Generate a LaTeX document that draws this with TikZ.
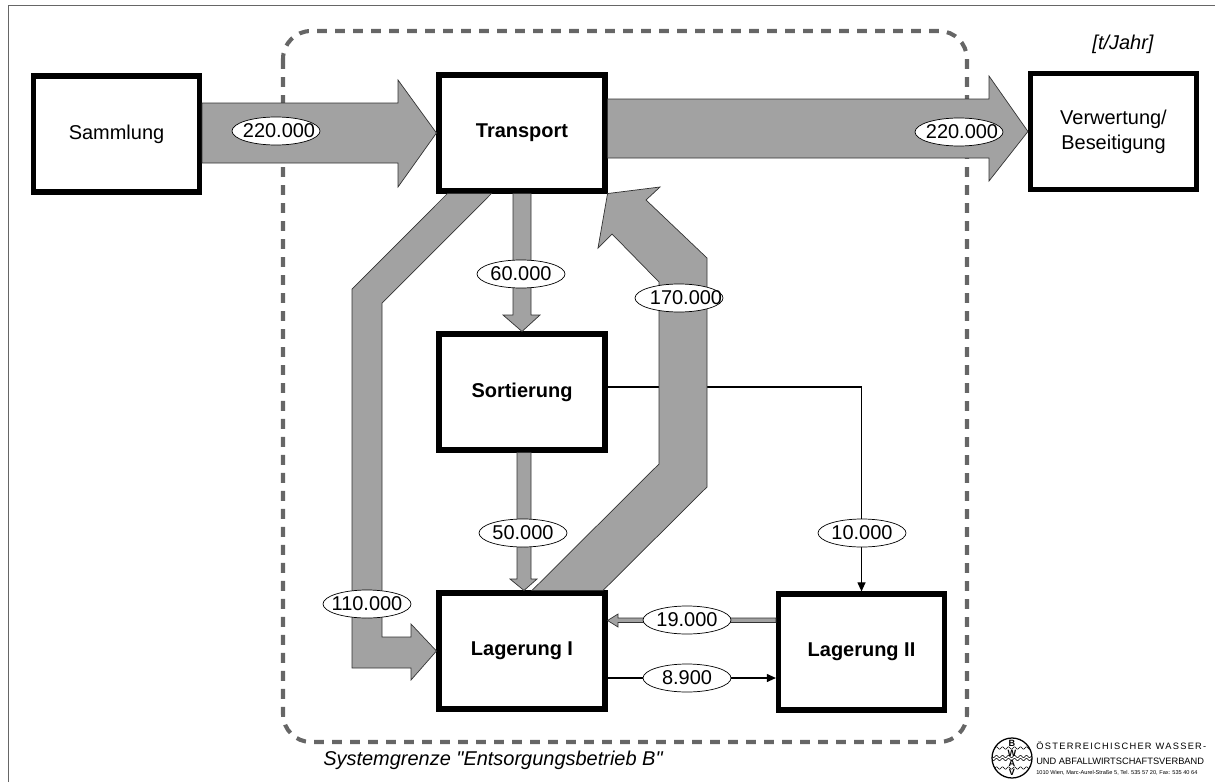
\documentclass[tikz,border=0pt]{standalone}
\usepackage{fontspec}
\setmainfont{Liberation Sans}[Ligatures=TeXOff]
\newfontfamily\logofont[LetterSpace=14]{Liberation Sans}
\usetikzlibrary{arrows.meta,calc,shapes.geometric}
\definecolor{flowgray}{HTML}{A2A2A2}
\definecolor{framegray}{HTML}{666666}
\begin{document}
\begin{tikzpicture}[x=0.025cm,y=-0.025cm,
  labeltext/.style={font=\fontsize{14.2}{17.8}\selectfont,align=center},
  box/.style={labeltext,draw=black,fill=white,line width=3.6pt,minimum width=4.15cm,minimum height=2.9cm,inner sep=0pt},
  flow/.style={draw=black!80,line width=0.5pt,fill=flowgray},
  amount/.style={labeltext,ellipse,draw=black,line width=0.5pt,fill=white,minimum width=2.2cm,minimum height=0.7cm,inner xsep=-0.3cm,inner ysep=-0.3cm},
  thinflow/.style={draw=black,line width=0.9pt,-{Triangle[length=6.5pt,width=5.7pt]}}]
\useasboundingbox (0,0) rectangle (1215,782);

% Rahmen und Systemgrenze
\draw[framegray,line width=0.7pt] (8,782) -- (8,5.5) -- (1215,5.5);
\draw[framegray,line width=2.9pt,dash pattern=on 7pt off 5.8pt,rounded corners=0.7cm] (283,31) rectangle (967,742);

% Kaesten
\node[box] (sammlung) at (116.5,134) {Sammlung};
\node[box] (transport) at (522,133) {\textbf{Transport}};
\node[box] (sortierung) at (522,392) {\textbf{Sortierung}};
\node[box] (lagerungI) at (522,651) {\textbf{Lagerung I}};
\node[box] (lagerungII) at (861.5,652) {\textbf{Lagerung II}};
\node[box] (verwertung) at (1113.5,131.5) {Verwertung/\\Beseitigung};

% Duenne Linie unter dem breiten Pfeil
\draw[thinflow] ($(sortierung.east)+(0,-5)$) -| (lagerungII.north);

% Breite Pfeile
\draw[flow] (sammlung.east |- 0,103) -- (398,103) -- (398,80) -- (transport.west)
  -- (398,187) -- (398,163) -- (sammlung.east |- 0,163) -- cycle;
\draw[flow] (transport.east |- 0,99) -- (989,99) -- (989,76) -- (verwertung.west)
  -- (989,181) -- (989,158) -- (transport.east |- 0,158) -- cycle;
\draw[flow] ($(transport.south west)+(11,0)$) -- (352,289) -- (352,668) -- (411,668) -- (411,680)
  -- (lagerungI.west) -- (411,624) -- (411,637) -- (382,637) -- (382,303)
  -- ($(transport.south west)+(55,0)$) -- cycle;
\draw[flow] (513,0 |- transport.south) -- (513,315) -- (503,315) -- (sortierung.north)
  -- (540,315) -- (531,315) -- (531,0 |- transport.south) -- cycle;
\draw[flow] (517,0 |- sortierung.south) -- (517,579) -- (510,579) -- (524,0 |- lagerungI.north)
  -- (537,579) -- (531,579) -- (531,0 |- sortierung.south) -- cycle;
\draw[flow] (532,0 |- lagerungI.north) -- (659,464) -- (659,282) -- (612,234) -- (598,248)
  -- (transport.south east) -- (660,187) -- (646,200) -- (707,258) -- (707,487)
  -- (603,0 |- lagerungI.north) -- cycle;
\draw[flow] (lagerungII.west |- 0,618) -- (618,618) -- (618,614) -- (lagerungI.east |- 0,620.5)
  -- (618,627) -- (618,622.5) -- (lagerungII.west |- 0,622.5) -- cycle;
\draw[thinflow] (lagerungI.east |- 0,678) -- (lagerungII.west |- 0,678);

% Mengen
\node[amount] (menge1) at (276,131) {\hspace*{0.15cm}220.000};
\node[amount] (menge2) at (959,132) {\hspace*{0.15cm}220.000};
\node[amount] (menge3) at (521,274) {60.000};
\node[amount] (menge4) at (679,298) {\hspace*{0.35cm}170.000};
\node[amount] (menge5) at (523,533) {50.000};
\node[amount] (menge6) at (862,533) {10.000};
\node[amount] (menge7) at (367,604) {110.000};
\node[amount] (menge8) at (687,620) {19.000};
\node[amount] (menge9) at (687,678) {8.900};

% Beschriftung
\node[labeltext,font=\fontsize{14.2}{17.8}\selectfont\itshape,inner sep=0pt] (einheit) at (1123,44) {[t/Jahr]};
\node[labeltext,font=\fontsize{14.2}{17.8}\selectfont\itshape,anchor=west,inner sep=0pt] (grenze) at (323,760) {Systemgrenze "Entsorgungsbetrieb B"};

% Logo
\begin{scope}
\clip (1012,758) circle (20);
\foreach \wave in {748,756.5,759.5,768} {
  \draw[line width=0.4pt] plot[domain=0:40,samples=60,smooth] ({992+\x},{\wave+1.2*sin(\x*60)});
}
\end{scope}
\draw[line width=0.9pt] (1012,758) circle (20);
\node[inner sep=0pt,font=\fontsize{6.5}{7}\selectfont\bfseries] (logoB) at (1012,743) {B};
\node[inner sep=0pt,font=\fontsize{6.5}{7}\selectfont\bfseries] (logoW) at (1012,753) {W};
\node[inner sep=0pt,font=\fontsize{6.5}{7}\selectfont\bfseries] (logoA) at (1012,763) {A};
\node[inner sep=0pt,font=\fontsize{6.5}{7}\selectfont\bfseries] (logoV) at (1012,772) {V};
\node[anchor=west,inner sep=0pt,font=\fontsize{6.6}{7}\selectfont\logofont] (verband1) at (1036,746) {ÖSTERREICHISCHER WASSER-};
\node[anchor=west,inner sep=0pt,font=\fontsize{6.6}{7}\selectfont] (verband2) at (1036,761) {UND ABFALLWIRTSCHAFTSVERBAND};
\node[anchor=west,inner sep=0pt,font=\fontsize{4}{5}\selectfont] (verband3) at (1036,773) {1010 Wien, Marc-Aurel-Straße 5, Tel. 535 57 20, Fax: 535 40 64};
\end{tikzpicture}
\end{document}
